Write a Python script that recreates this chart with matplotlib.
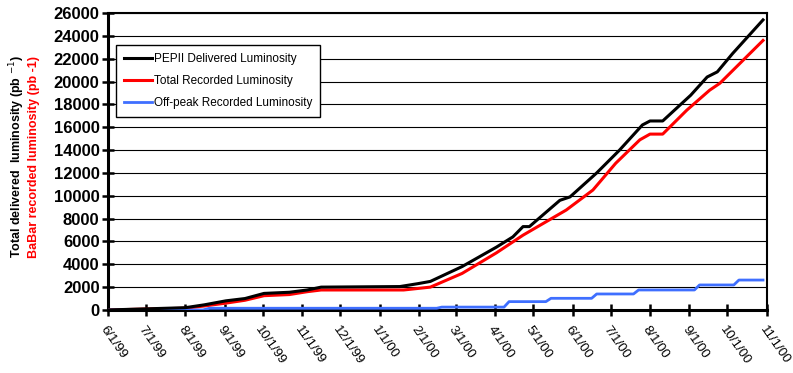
import matplotlib
matplotlib.use("Agg")
import matplotlib.pyplot as plt
import numpy as np
import pandas as pd

plt.rcParams['font.family'] = ['Liberation Sans', 'DejaVu Sans']

# cumulative luminosity (pb^-1)
delivered_dates = ['1999-06-01', '1999-07-02', '1999-08-01', '1999-08-16', '1999-09-02',
                   '1999-09-17', '1999-10-02', '1999-10-22', '1999-11-05', '1999-11-16',
                   '2000-01-17', '2000-01-31', '2000-02-10', '2000-03-06', '2000-04-02',
                   '2000-04-15', '2000-04-23', '2000-04-28', '2000-05-22', '2000-05-30',
                   '2000-06-20', '2000-07-08', '2000-07-26', '2000-08-01', '2000-08-11',
                   '2000-09-02', '2000-09-15', '2000-09-23', '2000-10-05', '2000-10-29']
delivered = [0, 100, 200, 450, 800,
             1000, 1450, 1550, 1750, 2000,
             2050, 2300, 2500, 3800, 5500,
             6400, 7300, 7300, 9600, 9900,
             12000, 14000, 16200, 16550, 16550,
             18800, 20400, 20850, 22450, 25400]

recorded_dates = ['1999-06-01', '1999-07-02', '1999-08-01', '1999-08-16', '1999-09-02',
                  '1999-09-17', '1999-10-02', '1999-10-22', '1999-11-05', '1999-11-16',
                  '2000-01-20', '2000-02-10', '2000-03-06', '2000-04-02', '2000-04-23',
                  '2000-05-27', '2000-06-17', '2000-07-05', '2000-07-24', '2000-08-01',
                  '2000-08-11', '2000-08-30', '2000-09-17', '2000-09-25', '2000-10-29']
recorded = [0, 80, 150, 350, 600,
            850, 1250, 1350, 1600, 1750,
            1750, 2000, 3200, 5000, 6550,
            8750, 10500, 12850, 14900, 15400,
            15400, 17500, 19250, 19850, 23600]

offpeak_dates = ['1999-06-01', '1999-08-15', '1999-08-20', '2000-02-15', '2000-02-19',
                 '2000-04-08', '2000-04-12', '2000-05-11', '2000-05-15', '2000-06-16',
                 '2000-06-20', '2000-07-19', '2000-07-23', '2000-09-05', '2000-09-09',
                 '2000-10-06', '2000-10-10', '2000-10-29']
offpeak = [0, 0, 150, 150, 250,
           250, 730, 730, 1020, 1020,
           1400, 1400, 1750, 1750, 2190,
           2190, 2620, 2620]

tick_dates = pd.date_range('1999-06-01', '2000-11-01', freq='MS')

fig = plt.figure(figsize=(7.93, 3.73), dpi=100)
ax = fig.add_axes([0.136, 0.169, 0.831, 0.796])

ax.plot(pd.to_datetime(delivered_dates), delivered, color='black', lw=2.2,
        label='PEPII Delivered Luminosity', zorder=4)
ax.plot(pd.to_datetime(recorded_dates), recorded, color='#ff0000', lw=2.2,
        label='Total Recorded Luminosity', zorder=3)
ax.plot(pd.to_datetime(offpeak_dates), offpeak, color='#3f6fff', lw=2.0,
        label='Off-peak Recorded Luminosity', zorder=3)

ax.set_xlim(tick_dates[0], tick_dates[-1])
ax.set_ylim(0, 26000)
ax.set_yticks(np.arange(0, 26001, 2000))
ax.set_xticks(tick_dates)
ax.set_xticklabels([f'{d.month}/1/{d.strftime("%y")}' for d in tick_dates],
                   rotation=-55, ha='left', va='top', rotation_mode='anchor', fontsize=9.5)
for lbl in ax.get_yticklabels():
    lbl.set_fontweight('bold')
    lbl.set_fontsize(12)

ax.grid(axis='y', color='black', lw=0.8)
ax.set_axisbelow(True)
ax.tick_params(axis='both', direction='inout', length=8, width=1.8, color='black')
ax.tick_params(axis='x', pad=6)
ax.tick_params(axis='y', pad=2)
ax.spines['left'].set_linewidth(2.2)
ax.spines['bottom'].set_linewidth(2.2)
ax.spines['right'].set_linewidth(1.5)
ax.spines['top'].set_linewidth(1.5)

fig.text(0.022, 0.58, 'Total delivered  luminosity (pb $^{-1}$)', rotation=90,
         ha='center', va='center', fontsize=9, fontweight='bold', color='black')
fig.text(0.043, 0.58, 'BaBar recorded luminosity (pb -1)', rotation=90,
         ha='center', va='center', fontsize=9, fontweight='bold', color='#ff0000')

leg = ax.legend(loc='upper left', bbox_to_anchor=(0.013, 0.892), borderaxespad=0,
                fontsize=8.5, handlelength=2.4, handletextpad=0.1, labelspacing=0.85,
                borderpad=0.65, fancybox=False, framealpha=1, edgecolor='black')
leg.get_frame().set_linewidth(1.0)

fig.savefig('out.png', dpi=100)
